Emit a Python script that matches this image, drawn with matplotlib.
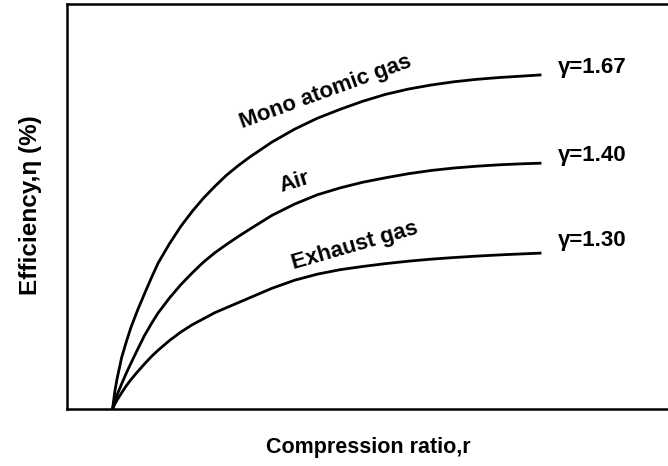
import matplotlib
matplotlib.use("Agg")
import matplotlib.pyplot as plt

plt.rcParams['font.family'] = ['Liberation Sans', 'DejaVu Sans']

# compression ratio (arbitrary units) and efficiency (%)
compression_ratio = [1.0, 1.05, 1.1, 1.2, 1.3, 1.4, 1.55, 1.7, 1.85, 2.0, 2.25, 2.5, 2.75, 3.0, 3.25,
                     3.5, 3.75, 4.0, 4.5, 5.0, 5.5, 6.0, 6.5, 7.0, 7.5, 8.0, 8.5, 9.0, 9.5, 10.0, 10.42]
eff_mono = [0, 4.3, 7.5, 12.7, 16.5, 20.0, 24.4, 28.4, 32.3, 36.0, 40.8, 45.1, 48.8, 52.1, 55.0,
            57.7, 60.0, 62.1, 65.9, 69.1, 71.8, 74.0, 76.0, 77.7, 79.0, 80.0, 80.8, 81.4, 81.85, 82.2, 82.5]
eff_air = [0, 1.9, 3.5, 6.2, 8.8, 11.2, 14.7, 18.1, 21.0, 23.7, 27.4, 30.7, 33.6, 36.3, 38.6,
           40.6, 42.5, 44.3, 47.8, 50.6, 52.9, 54.6, 56.0, 57.1, 58.1, 58.9, 59.5, 59.95, 60.3, 60.55, 60.7]
eff_exhaust = [0, 1.2, 2.2, 4.0, 5.7, 7.2, 9.2, 11.1, 12.9, 14.5, 16.9, 19.0, 20.8, 22.3, 23.8,
               25.0, 26.2, 27.4, 29.8, 31.8, 33.3, 34.4, 35.2, 35.9, 36.5, 37.0, 37.4, 37.75, 38.05, 38.3, 38.5]

curve_names = ['Mono atomic gas', 'Air', 'Exhaust gas']
gamma_labels = ['\u03b3=1.67', '\u03b3=1.40', '\u03b3=1.30']

fig = plt.figure(figsize=(6.68, 4.66), dpi=100)
ax = fig.add_axes([67 / 668, 57 / 466, 1 - 67 / 668, 405 / 466])

for eff in (eff_mono, eff_air, eff_exhaust):
    ax.plot(compression_ratio, eff, color='black', lw=2.0, solid_capstyle='butt')

ax.set_xlim(0, 13.2)
ax.set_ylim(0, 100)
ax.set_xticks([])
ax.set_yticks([])
ax.spines['right'].set_visible(False)
for s in ('left', 'bottom', 'top'):
    ax.spines[s].set_linewidth(1.8)

# curve names, rotated along the curves
ax.text(5.67, 78.3, curve_names[0], rotation=20, ha='center', va='center',
        fontsize=16, fontweight='bold')
ax.text(4.99, 56.0, curve_names[1], rotation=17, ha='center', va='center',
        fontsize=16, fontweight='bold')
ax.text(6.33, 40.2, curve_names[2], rotation=16, ha='center', va='center',
        fontsize=16, fontweight='bold')

# gamma values at the ends
for lab, y in zip(gamma_labels, [84.4, 62.7, 41.5]):
    ax.text(10.78, y, lab, ha='left', va='center', fontsize=16, fontweight='bold')

fig.text(368 / 668, 1 - 448 / 466, 'Compression ratio,r', ha='center', va='center',
         fontsize=15.5, fontweight='bold')
fig.text(31 / 668, 1 - 205 / 466, 'Efficiency,\u03b7 (%)', ha='center', va='center',
         rotation=90, fontsize=17.5, fontweight='bold')

fig.savefig('out.png', dpi=100)
